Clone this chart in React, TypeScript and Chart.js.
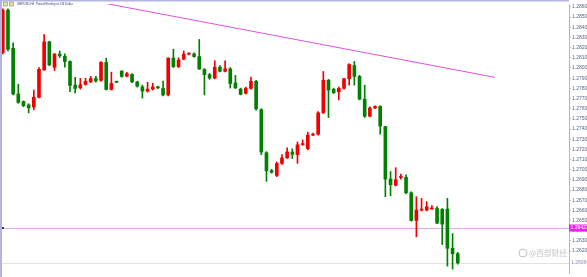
import React, { useEffect, useRef } from "react";
import { Chart, registerables } from "chart.js";
Chart.register(...registerables);

const opens = [1.28151,1.28568,1.28193,1.27744,1.2767,1.27636,1.27616,1.27712,1.27982,1.28257,1.28007,1.28136,1.28116,1.28064,1.27831,1.27805,1.27838,1.27863,1.27895,1.27879,1.28055,1.27789,1.27863,1.27968,1.2792,1.27937,1.27863,1.27814,1.27773,1.27792,1.27814,1.27799,1.27735,1.28097,1.28013,1.28087,1.28136,1.28138,1.28112,1.27985,1.27934,1.27901,1.28007,1.27968,1.27991,1.27853,1.27792,1.27751,1.27799,1.27869,1.2759,1.27167,1.26991,1.26943,1.27062,1.27116,1.27174,1.27148,1.27247,1.27206,1.2734,1.2735,1.27559,1.27879,1.27789,1.27766,1.27799,1.27895,1.28023,1.27917,1.27693,1.27526,1.27607,1.27622,1.27424,1.26908,1.26847,1.26924,1.26924,1.26773,1.26501,1.26603,1.26603,1.26614,1.26619,1.2661,1.26613,1.26228,1.26174];
const closes = [1.28568,1.28184,1.27744,1.27661,1.27629,1.2761,1.27712,1.27987,1.28257,1.2803,1.28136,1.28119,1.28064,1.27828,1.27799,1.27834,1.27869,1.27895,1.27872,1.28055,1.27789,1.27847,1.2786,1.27917,1.27943,1.27863,1.27821,1.27773,1.27792,1.27814,1.27805,1.27735,1.28097,1.28013,1.28078,1.28136,1.28138,1.28112,1.27991,1.27934,1.27901,1.28007,1.27968,1.27991,1.27847,1.27805,1.27741,1.27799,1.27869,1.27597,1.27174,1.26988,1.26975,1.27062,1.27116,1.27174,1.27151,1.27244,1.27249,1.2734,1.2735,1.27559,1.27879,1.27783,1.27757,1.27799,1.27895,1.28033,1.27917,1.27693,1.27526,1.27607,1.27622,1.2743,1.26908,1.26853,1.26901,1.26927,1.26773,1.26501,1.26603,1.26613,1.26636,1.26619,1.26475,1.26465,1.26228,1.26174,1.26084];
const highs = [1.28581,1.28581,1.28247,1.2784,1.27677,1.27648,1.27783,1.28004,1.28328,1.28263,1.28143,1.28167,1.28138,1.28071,1.27908,1.27898,1.27898,1.27917,1.27917,1.28062,1.28097,1.27959,1.27869,1.27975,1.27956,1.27946,1.27869,1.27831,1.2786,1.2785,1.27821,1.27872,1.281,1.28184,1.281,1.28167,1.28148,1.28148,1.2828,1.27994,1.27946,1.28071,1.28023,1.28071,1.28004,1.27927,1.27802,1.27812,1.27911,1.27879,1.276,1.27177,1.27004,1.27076,1.27148,1.27215,1.27206,1.27273,1.27292,1.27369,1.2736,1.27571,1.27965,1.27888,1.27802,1.27812,1.27898,1.28042,1.28064,1.27927,1.27831,1.27619,1.27629,1.27629,1.27427,1.26982,1.2702,1.26956,1.26949,1.26783,1.26735,1.26718,1.26686,1.26648,1.26638,1.26619,1.26718,1.26372,1.26187];
const lows = [1.28138,1.28167,1.27735,1.27653,1.27619,1.27559,1.2759,1.27706,1.27975,1.28023,1.27975,1.28103,1.28007,1.27766,1.27754,1.27792,1.27831,1.27855,1.2786,1.27869,1.27783,1.27783,1.27855,1.27908,1.27913,1.27855,1.27812,1.27703,1.27763,1.27783,1.27797,1.27725,1.27725,1.28004,1.28004,1.28081,1.28129,1.28105,1.27985,1.27735,1.27888,1.27893,1.27961,1.27961,1.27802,1.27797,1.27735,1.27744,1.27792,1.27586,1.27148,1.26886,1.26965,1.26932,1.27052,1.2711,1.2711,1.27062,1.27239,1.27196,1.27334,1.2734,1.27552,1.27513,1.27749,1.27687,1.27792,1.27831,1.27831,1.27687,1.27513,1.27518,1.276,1.2735,1.26735,1.26744,1.2684,1.26908,1.26763,1.26494,1.2634,1.26595,1.26595,1.2661,1.2647,1.26264,1.26052,1.26023,1.26071];

const yTicks = [1.262,1.263,1.264,1.265,1.266,1.267,1.268,1.269,1.27,1.271,1.272,1.273,1.274,1.275,1.276,1.277,1.278,1.279,1.28,1.281,1.282,1.283,1.284,1.285,1.286];
const trendX = [18.8, 95.2];
const trendY = [1.28645, 1.27908];
const hLinePrice = 1.26427;
const bidPrice = 1.26084;
const titleText = "GBPUSD,H4  Pound Sterling vs US Dollar";
const watermarkText = "@西部财经";

const UP = "#f00000";
const DOWN = "#008000";
const FRAME = "#b4b4e0";

const overlay = {
  id: "overlay",
  beforeDatasetsDraw(chart: any) {
    const { ctx, chartArea: a, scales } = chart;
    const y = scales.y;
    ctx.save();
    ctx.lineWidth = 1;
    const yh = Math.round(y.getPixelForValue(hLinePrice)) + 0.5;
    ctx.strokeStyle = "#e4a8f0";
    ctx.beginPath(); ctx.moveTo(a.left, yh); ctx.lineTo(a.right, yh); ctx.stroke();
    const yb = Math.round(y.getPixelForValue(bidPrice)) + 0.5;
    ctx.strokeStyle = "#e2e2e2";
    ctx.beginPath(); ctx.moveTo(a.left, yb); ctx.lineTo(a.right, yb); ctx.stroke();
    ctx.restore();
  },
  afterDraw(chart: any) {
    const { ctx, chartArea: a, scales } = chart;
    const y = scales.y;
    ctx.save();
    // frame
    ctx.fillStyle = FRAME;
    ctx.fillRect(0, 0, 2, chart.height);
    ctx.fillRect(0, 0, a.right, 1.5);
    // header icons
    ctx.fillStyle = "#dfe3a8";
    ctx.strokeStyle = "#8a8a6a";
    ctx.lineWidth = 0.6;
    ctx.fillRect(3.5, 2, 4, 4); ctx.strokeRect(3.5, 2, 4, 4);
    ctx.fillRect(9.5, 2, 4, 4); ctx.strokeRect(9.5, 2, 4, 4);
    // header text
    ctx.font = "5px Arial";
    const w = ctx.measureText(titleText).width;
    const fs = (5 * 56) / w;
    ctx.font = fs.toFixed(2) + "px Arial";
    ctx.fillStyle = "#2e3c78";
    ctx.textBaseline = "middle";
    ctx.textAlign = "left";
    ctx.fillText(titleText, 17, 4.5);
    // left marker
    const yh = y.getPixelForValue(hLinePrice);
    ctx.fillStyle = "#303080";
    ctx.fillRect(2, yh - 1, 2, 2);
    // price label for horizontal line
    ctx.fillStyle = "#ee22ee";
    ctx.fillRect(a.right, yh - 3.5, 18, 7);
    ctx.fillStyle = "#ffffff";
    ctx.font = "5px Arial";
    ctx.fillText(hLinePrice.toFixed(5), a.right + 1.5, yh);
    // bid label
    const yb = y.getPixelForValue(bidPrice);
    ctx.fillStyle = "#8c8cb8";
    ctx.fillText(bidPrice.toFixed(5), a.right + 2, yb);
    // watermark
    ctx.strokeStyle = "#c4c4c4";
    ctx.lineWidth = 1;
    ctx.beginPath(); ctx.arc(523, 253, 4, 0, Math.PI * 2); ctx.stroke();
    ctx.font = "9px 'Noto Sans CJK SC'";
    const ww = ctx.measureText(watermarkText).width;
    const wf = (9 * 38) / ww;
    ctx.font = wf.toFixed(2) + "px 'Noto Sans CJK SC'";
    ctx.fillStyle = "#c8c8c8";
    ctx.fillText(watermarkText, 529, 253);
    ctx.restore();
  },
};

export default function App() {
  const ref = useRef<HTMLCanvasElement>(null);
  useEffect(() => {
    const idx = opens.map((_, i) => i);
    const colors = idx.map((i) => (closes[i] > opens[i] ? UP : DOWN));
    const chart = new Chart(ref.current as HTMLCanvasElement, {
      type: "bar",
      data: {
        datasets: [
          {
            type: "line",
            data: trendX.map((x, i) => ({ x, y: trendY[i] })),
            borderColor: "#e050e0",
            borderWidth: 1,
            pointRadius: 0,
            order: 0,
          } as any,
          {
            type: "bar",
            data: idx.map((i) => ({ x: i, y: [lows[i], highs[i]] })),
            backgroundColor: colors,
            barThickness: 1,
            grouped: false,
            borderWidth: 0,
            order: 2,
          } as any,
          {
            type: "bar",
            data: idx.map((i) => ({ x: i, y: [opens[i], closes[i]] })),
            backgroundColor: colors,
            barThickness: 3,
            minBarLength: 1,
            grouped: false,
            borderWidth: 0,
            order: 1,
          } as any,
        ],
      },
      options: {
        animation: false,
        responsive: false,
        devicePixelRatio: 1,
        layout: { padding: { left: 2, top: 2, right: 0, bottom: 0 } },
        plugins: { legend: { display: false }, tooltip: { enabled: false }, title: { display: false } },
        scales: {
          x: {
            type: "linear",
            min: -0.155,
            max: 109.52,
            offset: false,
            display: false,
            grid: { display: false },
          },
          y: {
            type: "linear",
            position: "right",
            min: 1.259846,
            max: 1.286288,
            afterBuildTicks: (axis: any) => {
              axis.ticks = yTicks.map((v) => ({ value: v }));
            },
            afterFit: (axis: any) => {
              axis.width = 18;
            },
            border: { display: true, color: FRAME, width: 1 },
            grid: { display: true, drawOnChartArea: false, drawTicks: true, tickLength: 2, color: FRAME },
            ticks: {
              padding: 1,
              autoSkip: false,
              color: "#5a6488",
              font: { size: 5, family: "Arial" },
              callback: (v: any) => Number(v).toFixed(5),
            },
          },
        },
      } as any,
      plugins: [overlay],
    });
    return () => chart.destroy();
  }, []);
  return (
    <div style={{ position: "fixed", left: 0, top: 0, width: 587, height: 277, background: "#ffffff" }}>
      <canvas ref={ref} width={587} height={277} style={{ display: "block", width: 587, height: 277 }} />
    </div>
  );
}
